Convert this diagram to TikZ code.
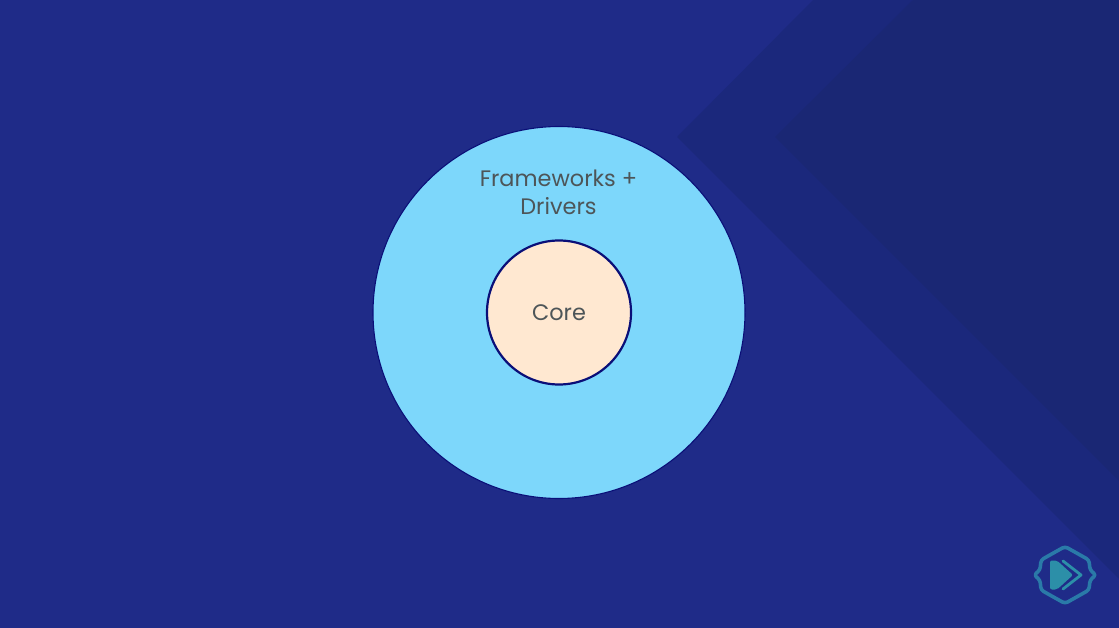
\documentclass[tikz,border=0pt]{standalone}
\usepackage{fontspec}
\setmainfont{Poppins}
\definecolor{bgA}{HTML}{1F2B88}
\definecolor{bgB}{HTML}{1B287C}
\definecolor{bgC}{HTML}{1A2774}
\definecolor{outerfill}{HTML}{7DD7FB}
\definecolor{innerfill}{HTML}{FFE8D1}
\definecolor{ringline}{HTML}{0A0F78}
\definecolor{labeltext}{HTML}{4D5558}
\definecolor{logoA}{HTML}{2A7AA8}
\definecolor{logoB}{HTML}{2C8FA8}
\tikzset{
  x=1pt,y=-1pt,
  ring/.style={circle,draw=ringline,inner sep=0pt},
  label text/.style={text=labeltext,align=center,font=\fontsize{22.4}{28}\selectfont},
  logoline/.style={draw=logoA,line width=3.6pt,line join=round,line cap=round}
}
\begin{document}
\begin{tikzpicture}
\useasboundingbox (0,0) rectangle (1119,628);
\fill[bgA] (0,0) rectangle (1119,628);
\fill[bgB] (813,0) -- (677,137) -- (1119,579) -- (1119,0) -- cycle;
\fill[bgC] (913,0) -- (775,137) -- (1119,481) -- (1119,0) -- cycle;
\node[ring,fill=outerfill,line width=1.1pt,minimum size=372pt] (outer) at (559,312.5) {};
\node[ring,fill=innerfill,line width=2.2pt,minimum size=144pt] (inner) at (559,312.5) {};
\node[label text] (fw) at (558.5,192.5) {Frameworks +\\Drivers};
\node[label text] (core) at (559,312.5) {Core};
% logo
\path[logoline,rounded corners=3pt]
  (1065,546.5) -- (1089,560) -- (1090,570) -- (1096,575) -- (1090,580) -- (1089,590)
  -- (1065,603.5) -- (1041,590) -- (1040,580) -- (1034,575) -- (1040,570) -- (1041,560) -- cycle;
\fill[logoB,rounded corners=2pt] (1050,560.5) -- (1057,560.5) -- (1073,575) -- (1057,589.5) -- (1050,589.5) -- cycle;
\path[logoline,draw=logoB,line width=2.8pt] (1063,561) -- (1081,575) -- (1063,589);
\end{tikzpicture}
\end{document}
